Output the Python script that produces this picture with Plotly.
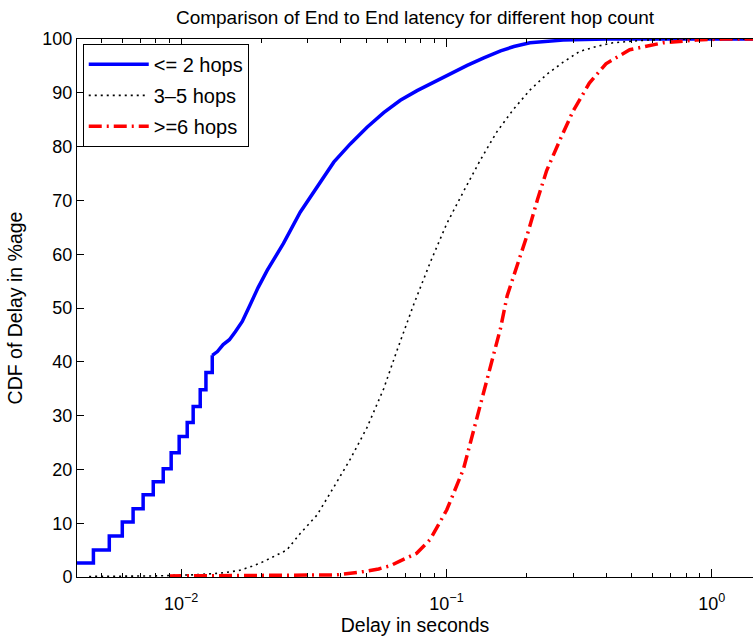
import plotly.graph_objects as go
import math

# ---------------- data ----------------
blue_step_x = [0.0040, 0.00467, 0.00536, 0.0060, 0.00659, 0.00719, 0.00785, 0.00856,
               0.00917, 0.00983, 0.01054, 0.0111, 0.0118, 0.0124, 0.0131]
blue_step_y = [2.6, 5.0, 7.6, 10.2, 12.7, 15.3, 17.7, 20.1,
               23.1, 26.1, 28.7, 31.7, 34.8, 38.0, 41.2]

blue_x = [0.0131, 0.0137, 0.0144, 0.0152, 0.0160, 0.0170, 0.0182, 0.0195, 0.0211, 0.0243,
          0.0281, 0.0325, 0.0376, 0.0434, 0.0502, 0.058, 0.067, 0.0775, 0.0896, 0.1035,
          0.1197, 0.1383, 0.160, 0.1795, 0.2063, 0.2754, 0.40, 1.0, 1.5]
blue_y = [41.2, 41.9, 43.2, 44.1, 45.6, 47.5, 50.6, 53.8, 57.0, 62.0,
          67.8, 72.5, 77.1, 80.5, 83.6, 86.3, 88.6, 90.4, 92.0, 93.6,
          95.1, 96.5, 97.8, 98.6, 99.3, 99.8, 100, 100, 100]

black_x = [0.0045, 0.008, 0.011, 0.014, 0.0165, 0.0185, 0.0205, 0.0225, 0.025, 0.028,
           0.0325, 0.0376, 0.0434, 0.0502, 0.058, 0.0652, 0.0753, 0.0869, 0.1003, 0.1158,
           0.1338, 0.1546, 0.1786, 0.2063, 0.2384, 0.2754, 0.318, 0.367, 0.424, 0.566,
           0.8, 1.5]
black_y = [0.1, 0.2, 0.4, 0.7, 1.2, 2.0, 2.9, 3.9, 5.0, 8.0,
           11.5, 16.7, 21.9, 27.8, 35.0, 42.2, 50.7, 58.5, 65.7, 71.6,
           77.4, 82.7, 86.9, 90.5, 93.4, 95.7, 97.7, 98.6, 99.3, 99.8,
           100, 100]

red_x = [0.009, 0.012, 0.016, 0.02, 0.025, 0.03, 0.0387, 0.0488, 0.0555, 0.0615,
         0.067, 0.0772, 0.0869, 0.1003, 0.1158, 0.1338, 0.1462, 0.16, 0.1694, 0.1848,
         0.2019, 0.2205, 0.2384, 0.2681, 0.30, 0.3456, 0.399, 0.4904, 0.656, 0.875,
         1.1, 1.5]
red_y = [0.2, 0.2, 0.3, 0.3, 0.3, 0.35, 0.4, 1.0, 1.5, 2.1,
         3.0, 4.4, 7.0, 12.5, 20.0, 31.5, 39.0, 46.3, 52.3, 57.8,
         63.7, 70.2, 75.5, 81.3, 86.6, 91.8, 95.4, 98.0, 99.3, 99.8,
         100, 100]

x_major = [0.01, 0.1, 1]
x_major_text = ["10<sup>−2</sup>", "10<sup>−1</sup>", "10<sup>0</sup>"]
x_minor = [m * 10 ** e for e in (-3, -2, -1, 0) for m in range(2, 10)]
y_ticks = list(range(0, 101, 10))

x_min, x_max = 0.00405, 1.43

FONT = "Liberation Sans, Arial, Helvetica, sans-serif"

fig = go.Figure()
fig.add_trace(go.Scatter(x=blue_step_x, y=blue_step_y, mode="lines", line_shape="hv",
                         line=dict(color="#0000ff", width=3.5),
                         name="<= 2 hops", legendgroup="a", showlegend=False))
fig.add_trace(go.Scatter(x=blue_x, y=blue_y, mode="lines",
                         line=dict(color="#0000ff", width=3.5),
                         name="<= 2 hops", legendgroup="a"))
fig.add_trace(go.Scatter(x=black_x, y=black_y, mode="lines",
                         line=dict(color="#000000", width=1.6, dash="2px,4px"),
                         name="3–5 hops", legendgroup="b"))
fig.add_trace(go.Scatter(x=red_x, y=red_y, mode="lines",
                         line=dict(color="#ff0000", width=3.5, dash="13px,5px,2px,5px"),
                         name=">=6 hops", legendgroup="c"))

fig.update_layout(
    width=753, height=637,
    margin=dict(l=77, r=0, t=39, b=60),
    paper_bgcolor="white", plot_bgcolor="white",
    font=dict(family=FONT, size=18, color="black"),
    title=dict(text="Comparison of End to End latency for different hop count",
               x=0.5, xref="paper", xanchor="center", y=0.972, yanchor="middle",
               font=dict(family=FONT, size=19, color="black")),
    legend=dict(x=0.0085, y=0.991, xanchor="left", yanchor="top",
                bgcolor="white", bordercolor="black", borderwidth=1,
                font=dict(family=FONT, size=20, color="black"),
                tracegroupgap=2, itemwidth=60, traceorder="grouped"),
    showlegend=True,
)

fig.update_xaxes(
    type="log", range=[math.log10(x_min), math.log10(x_max)],
    showgrid=False, zeroline=False,
    showline=True, linecolor="black", linewidth=1, mirror="ticks",
    ticks="inside", ticklen=8, tickwidth=1, tickcolor="black",
    tickmode="array", tickvals=x_major, ticktext=x_major_text,
    tickfont=dict(family=FONT, size=18, color="black"),
    ticklabelstandoff=10,
    minor=dict(tickmode="array", tickvals=x_minor, ticks="inside", ticklen=4,
               tickwidth=1, tickcolor="black", showgrid=False),
    title=dict(text="Delay in seconds", font=dict(family=FONT, size=19.5, color="black"),
               standoff=4),
)
fig.update_yaxes(
    range=[0, 100], showgrid=False, zeroline=False,
    showline=True, linecolor="black", linewidth=1, mirror=False,
    ticks="inside", ticklen=7, tickwidth=1, tickcolor="black",
    tickmode="array", tickvals=y_ticks,
    tickfont=dict(family=FONT, size=18, color="black"),
    title=dict(text="CDF of Delay in %age", font=dict(family=FONT, size=19.5, color="black"),
               standoff=14),
)

fig.write_html("out.html")
